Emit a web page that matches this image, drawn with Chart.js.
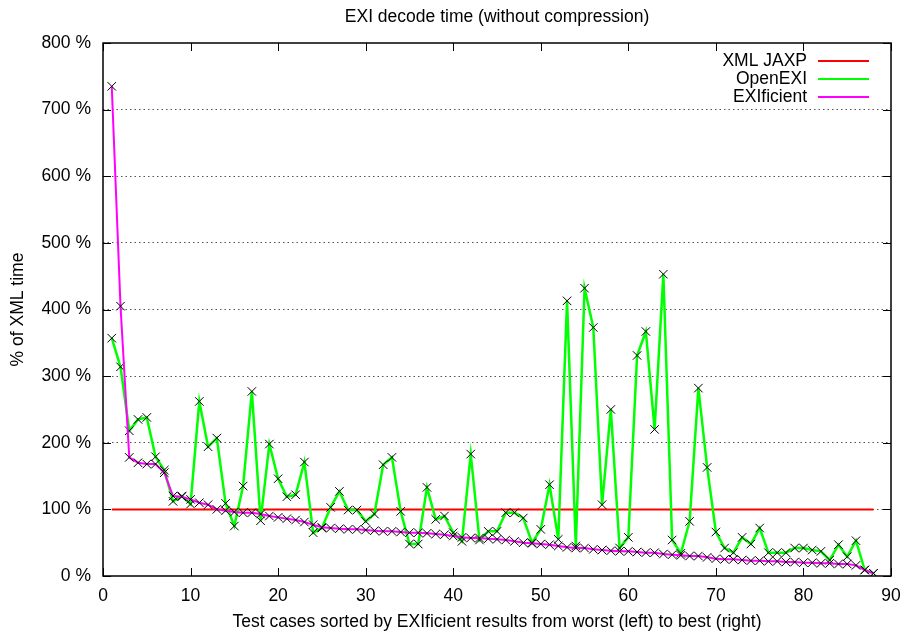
<!DOCTYPE html>
<html>
<head>
<meta charset="utf-8">
<script src="https://cdn.jsdelivr.net/npm/chart.js@4.4.1/dist/chart.umd.min.js"></script>
<style>
  html, body { margin: 0; padding: 0; background: #fff; }
  #wrap { width: 904px; height: 633px; }
</style>
</head>
<body>
<div id="wrap"><canvas id="exi"></canvas></div>
<script>
// test cases, sorted by EXIficient result (worst -> best)
const cases = Array.from({ length: 88 }, (_, i) => i + 1);

const xmlJaxp = cases.map(() => 100);

const openExi = [357, 314, 218, 235, 238, 179, 159, 112, 120, 108,
    262, 194, 207, 109, 75, 135, 277, 83, 198, 146,
    119, 122, 171, 65, 72, 103, 127, 99, 99, 82,
    93, 167, 178, 97, 48, 48, 133, 85, 90, 65,
    52, 183, 54, 67, 67, 95, 95, 87, 50, 70,
    137, 55, 413, 45, 432, 373, 107, 250, 42, 58,
    331, 367, 220, 453, 54, 34, 82, 282, 163, 66,
    42, 35, 58, 48, 72, 35, 35, 35, 42, 42,
    39, 37, 24, 47, 29, 53, 9, 4];

const exificient = [735, 405, 178, 170, 168, 168, 155, 120, 119, 115,
    110, 107, 100, 98, 96, 95, 95, 93, 90, 88,
    86, 84, 81, 77, 73, 72, 71, 70, 70, 69,
    68, 67, 67, 66, 65, 65, 64, 63, 62, 60,
    58, 57, 57, 56, 55, 54, 52, 50, 49, 48,
    47, 45, 43, 42, 42, 40, 39, 38, 37, 37,
    36, 35, 35, 33, 32, 31, 30, 30, 28, 26,
    25, 25, 24, 23, 23, 22, 22, 21, 21, 20,
    20, 19, 19, 18, 18, 16, 9, 4];

const yTicks = [0, 100, 200, 300, 400, 500, 600, 700, 800];
const xTicks = [0, 10, 20, 30, 40, 50, 60, 70, 80, 90];

const FONT = 'Liberation Sans, Arial, Helvetica, sans-serif';
const pts = arr => arr.map((v, i) => ({ x: cases[i], y: v }));

// frame with inward ticks on all four sides, title and gnuplot-style legend
const gnuFrame = {
    id: 'gnuFrame',
    afterDraw(chart) {
        const { ctx, chartArea: a, scales } = chart;
        ctx.save();
        ctx.strokeStyle = '#000';
        ctx.lineWidth = 1.5;
        ctx.strokeRect(a.left, a.top, a.right - a.left, a.bottom - a.top);
        ctx.lineWidth = 1;
        ctx.beginPath();
        xTicks.forEach(t => {
            const px = Math.round(scales.x.getPixelForValue(t)) + 0.5;
            ctx.moveTo(px, a.bottom); ctx.lineTo(px, a.bottom - 8);
            ctx.moveTo(px, a.top); ctx.lineTo(px, a.top + 8);
        });
        yTicks.forEach(t => {
            const py = Math.round(scales.y.getPixelForValue(t)) + 0.5;
            ctx.moveTo(a.left, py); ctx.lineTo(a.left + 8, py);
            ctx.moveTo(a.right, py); ctx.lineTo(a.right - 8, py);
        });
        ctx.stroke();

        ctx.fillStyle = '#000';
        ctx.font = '17.5px ' + FONT;
        ctx.textAlign = 'center';
        ctx.textBaseline = 'middle';
        ctx.fillText('EXI decode time (without compression)', (a.left + a.right) / 2, 17);

        // legend
        ctx.textAlign = 'right';
        chart.data.datasets.forEach((ds, i) => {
            const y = 61 + i * 18;
            ctx.fillStyle = '#000';
            ctx.fillText(ds.label, 807, y);
            ctx.strokeStyle = ds.borderColor;
            ctx.lineWidth = 2;
            ctx.beginPath();
            ctx.moveTo(818, y); ctx.lineTo(869, y);
            ctx.stroke();
        });
        ctx.restore();
    }
};

new Chart(document.getElementById('exi'), {
    type: 'line',
    data: {
        datasets: [
            {
                label: 'XML JAXP',
                data: pts(xmlJaxp),
                borderColor: '#ff0000',
                borderWidth: 2,
                pointRadius: 0,
                order: 2
            },
            {
                label: 'OpenEXI',
                data: pts(openExi),
                borderColor: '#00ff00',
                borderWidth: 2.5,
                pointStyle: 'crossRot',
                pointRadius: 6,
                pointBorderColor: '#000',
                pointBorderWidth: 1,
                order: 1
            },
            {
                label: 'EXIficient',
                data: pts(exificient),
                borderColor: '#ff00ff',
                borderWidth: 2,
                pointStyle: 'crossRot',
                pointRadius: 6,
                pointBorderColor: '#000',
                pointBorderWidth: 1,
                order: 0
            }
        ]
    },
    options: {
        responsive: true,
        maintainAspectRatio: false,
        animation: false,
        layout: { padding: { left: 0, right: 13, top: 43, bottom: 0 } },
        plugins: {
            legend: { display: false },
            title: { display: false },
            tooltip: { enabled: false }
        },
        scales: {
            x: {
                type: 'linear',
                min: 0,
                max: 90,
                afterFit: s => { s.height = 57; },
                afterBuildTicks: s => { s.ticks = xTicks.map(v => ({ value: v })); },
                grid: { display: false },
                border: { display: false },
                ticks: { color: '#000', padding: 2, font: { family: FONT, size: 17.5 } },
                title: {
                    display: true,
                    text: 'Test cases sorted by EXIficient results from worst (left) to best (right)',
                    color: '#000',
                    font: { family: FONT, size: 17.5 },
                    padding: { top: 0, bottom: 0 }
                }
            },
            y: {
                min: 0,
                max: 800,
                afterFit: s => { s.width = 103; },
                afterBuildTicks: s => { s.ticks = yTicks.map(v => ({ value: v })); },
                grid: {
                    drawTicks: false,
                    color: ctx => (ctx.tick && (ctx.tick.value === 0 || ctx.tick.value === 800)) ? 'rgba(0,0,0,0)' : '#555',
                    lineWidth: 1
                },
                border: { display: false, dash: [1.5, 3] },
                ticks: {
                    color: '#000',
                    padding: 12,
                    font: { family: FONT, size: 17.5 },
                    callback: v => v + ' %'
                },
                title: {
                    display: true,
                    text: '% of XML time',
                    color: '#000',
                    font: { family: FONT, size: 17.5 },
                    padding: { top: 8, bottom: 0 }
                }
            }
        }
    },
    plugins: [gnuFrame]
});
</script>
</body>
</html>
